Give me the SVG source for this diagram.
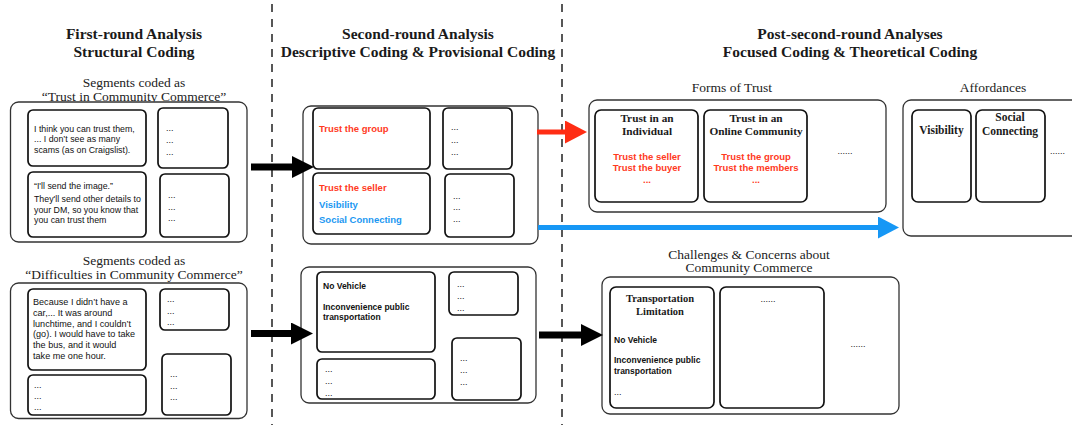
<svg xmlns="http://www.w3.org/2000/svg" width="1072" height="425" viewBox="0 0 1072 425">
  <style>
    .title { font-family: "Liberation Serif", serif; font-weight: bold; font-size: 15.5px; fill: #1a1a1a; text-anchor: middle; }
    .sub { font-family: "Liberation Serif", serif; font-size: 13.5px; fill: #222; text-anchor: middle; }
    .head { font-family: "Liberation Serif", serif; font-weight: bold; font-size: 11.3px; fill: #1a1a1a; text-anchor: middle; }
    .quote { font-family: "Liberation Sans", Arial, sans-serif; font-size: 8.8px; fill: #111; }
    .quote2 { font-family: "Liberation Sans", Arial, sans-serif; font-size: 9.1px; fill: #111; }
    .dots { font-family: "Liberation Sans", Arial, sans-serif; font-size: 9px; fill: #111; }
    .code { font-family: "Liberation Sans", Arial, sans-serif; font-weight: bold; font-size: 9.5px; }
    .codek { font-family: "Liberation Sans", Arial, sans-serif; font-weight: bold; font-size: 8.5px; fill: #111; }
    .red { fill: #ff3a1e; }
    .blue { fill: #1b98f2; }
    .mid { text-anchor: middle; }
    .outer { fill: #fff; stroke: #333; stroke-width: 1.3; }
    .inner { fill: #fff; stroke: #111; stroke-width: 1.7; }
    .divider { stroke: #111; stroke-width: 1.4; stroke-dasharray: 8 7; fill: none; }
  </style>
  <defs>
    <marker id="head-black" markerUnits="userSpaceOnUse" markerWidth="22" markerHeight="22" viewBox="0 0 22 22" refX="0" refY="11" orient="auto">
      <path d="M0,0 L22,11 L0,22 z" fill="#000"/>
    </marker>
    <marker id="head-red" markerUnits="userSpaceOnUse" markerWidth="23" markerHeight="23" viewBox="0 0 23 23" refX="0" refY="11.5" orient="auto">
      <path d="M0,0 L22,11.5 L0,23 z" fill="#ff2d14"/>
    </marker>
    <marker id="head-blue" markerUnits="userSpaceOnUse" markerWidth="22" markerHeight="22" viewBox="0 0 22 22" refX="0" refY="11" orient="auto">
      <path d="M0,0 L21,11 L0,22 z" fill="#1697f5"/>
    </marker>
  </defs>

  <rect x="0" y="0" width="1072" height="425" fill="#fff"/>

  <!-- phase dividers -->
  <line class="divider" x1="272" y1="4" x2="272" y2="425"/>
  <line class="divider" x1="562" y1="4" x2="562" y2="425"/>

  <!-- phase headings -->
  <g id="heading-first">
    <text class="title" x="134" y="38.6">First-round Analysis</text>
    <text class="title" x="134" y="57">Structural Coding</text>
  </g>
  <g id="heading-second">
    <text class="title" x="418" y="38.6">Second-round Analysis</text>
    <text class="title" x="418" y="57">Descriptive Coding &amp; Provisional Coding</text>
  </g>
  <g id="heading-post">
    <text class="title" x="850" y="38.6">Post-second-round Analyses</text>
    <text class="title" x="850" y="57">Focused Coding &amp; Theoretical Coding</text>
  </g>

  <!-- first round: trust segments -->
  <g id="segments-trust">
    <text class="sub" x="134" y="87">Segments coded as</text>
    <text class="sub" x="134" y="100.5">“Trust in Community Commerce”</text>
    <rect class="outer" x="10.5" y="102" width="236.5" height="140" rx="8"/>
    <rect class="inner" x="28" y="110" width="118" height="56" rx="5"/>
    <text class="quote" x="34" y="131.5">I think you can trust them,</text>
    <text class="quote" x="34" y="142">... I don’t see as many</text>
    <text class="quote" x="34" y="152.5">scams (as on Craigslist).</text>
    <rect class="inner" x="158" y="108" width="70" height="60" rx="5"/>
    <text class="dots" x="166" y="131">...</text>
    <text class="dots" x="166" y="143">...</text>
    <text class="dots" x="166" y="155">...</text>
    <rect class="inner" x="28" y="172" width="118" height="65" rx="5"/>
    <text class="quote" x="34" y="189">“I'll send the image.”</text>
    <text class="quote" x="34" y="202">They'll send other details to</text>
    <text class="quote" x="34" y="212.5">your DM, so you know that</text>
    <text class="quote" x="34" y="223">you can trust them</text>
    <rect class="inner" x="160" y="174" width="69" height="63" rx="5"/>
    <text class="dots" x="168" y="198">...</text>
    <text class="dots" x="168" y="209.5">...</text>
    <text class="dots" x="168" y="221">...</text>
  </g>

  <!-- first round: difficulty segments -->
  <g id="segments-difficulties">
    <text class="sub" x="134" y="265">Segments coded as</text>
    <text class="sub" x="134" y="278.5">“Difficulties in Community Commerce”</text>
    <rect class="outer" x="10.5" y="283" width="236.5" height="135.5" rx="8"/>
    <rect class="inner" x="28" y="289" width="118" height="81" rx="5"/>
    <text class="quote2" x="33" y="304.5">Because I didn’t have a</text>
    <text class="quote2" x="33" y="315.5">car,... It was around</text>
    <text class="quote2" x="33" y="326.5">lunchtime, and I couldn’t</text>
    <text class="quote2" x="33" y="337">(go). I would have to take</text>
    <text class="quote2" x="33" y="348">the bus, and it would</text>
    <text class="quote2" x="33" y="359">take me one hour.</text>
    <rect class="inner" x="160" y="289" width="69" height="41" rx="5"/>
    <text class="dots" x="167" y="302">...</text>
    <text class="dots" x="167" y="313.5">...</text>
    <text class="dots" x="167" y="325">...</text>
    <rect class="inner" x="28" y="375" width="118" height="40" rx="5"/>
    <text class="dots" x="34" y="388">...</text>
    <text class="dots" x="34" y="399">...</text>
    <text class="dots" x="34" y="409.5">...</text>
    <rect class="inner" x="162" y="354" width="69" height="61" rx="5"/>
    <text class="dots" x="170" y="377">...</text>
    <text class="dots" x="170" y="388.5">...</text>
    <text class="dots" x="170" y="400">...</text>
  </g>

  <!-- second round: trust codes -->
  <g id="codes-trust">
    <rect class="outer" x="303" y="106" width="235" height="138" rx="8"/>
    <rect class="inner" x="313" y="108" width="117" height="61" rx="5"/>
    <text class="code red" x="319" y="132">Trust the group</text>
    <rect class="inner" x="443" y="108" width="69" height="61" rx="5"/>
    <text class="dots" x="451" y="130">...</text>
    <text class="dots" x="451" y="142.5">...</text>
    <text class="dots" x="451" y="154.5">...</text>
    <rect class="inner" x="313" y="173" width="117" height="61" rx="5"/>
    <text class="code red" x="319" y="190.5">Trust the seller</text>
    <text class="code blue" x="319" y="207.5">Visibility</text>
    <text class="code blue" x="319" y="223">Social Connecting</text>
    <rect class="inner" x="445" y="174" width="69" height="63" rx="5"/>
    <text class="dots" x="453" y="199">...</text>
    <text class="dots" x="453" y="210">...</text>
    <text class="dots" x="453" y="222">...</text>
  </g>

  <!-- second round: difficulty codes -->
  <g id="codes-difficulties">
    <rect class="outer" x="301" y="267" width="235" height="136" rx="8"/>
    <rect class="inner" x="317" y="272" width="118" height="80" rx="5"/>
    <text class="codek" x="323" y="289">No Vehicle</text>
    <text class="codek" x="323" y="310">Inconvenience public</text>
    <text class="codek" x="323" y="320">transportation</text>
    <rect class="inner" x="449" y="272" width="69" height="43" rx="5"/>
    <text class="dots" x="457" y="287">...</text>
    <text class="dots" x="457" y="299">...</text>
    <text class="dots" x="457" y="310.5">...</text>
    <rect class="inner" x="317" y="359" width="118" height="40" rx="5"/>
    <text class="dots" x="325" y="372">...</text>
    <text class="dots" x="325" y="384">...</text>
    <text class="dots" x="325" y="395.5">...</text>
    <rect class="inner" x="452" y="338" width="69" height="62" rx="5"/>
    <text class="dots" x="460" y="361">...</text>
    <text class="dots" x="460" y="373">...</text>
    <text class="dots" x="460" y="385">...</text>
  </g>

  <!-- post-second-round: forms of trust -->
  <g id="forms-of-trust">
    <text class="sub" x="732" y="92">Forms of Trust</text>
    <rect class="outer" x="589" y="100" width="297" height="112" rx="8"/>
    <rect class="inner" x="595" y="110" width="103" height="92" rx="6"/>
    <text class="head" x="647" y="122">Trust in an</text>
    <text class="head" x="647" y="135">Individual</text>
    <text class="code red mid" x="647" y="159.5">Trust the seller</text>
    <text class="code red mid" x="647" y="170.5">Trust the buyer</text>
    <text class="code red mid" x="647" y="183">...</text>
    <rect class="inner" x="704" y="110" width="103" height="92" rx="6"/>
    <text class="head" x="756" y="122">Trust in an</text>
    <text class="head" x="756" y="135">Online Community</text>
    <text class="code red mid" x="756" y="159.5">Trust the group</text>
    <text class="code red mid" x="756" y="170.5">Trust the members</text>
    <text class="code red mid" x="756" y="183">...</text>
    <text class="dots mid" x="845" y="154">......</text>
  </g>

  <!-- post-second-round: affordances -->
  <g id="affordances">
    <text class="sub" x="993" y="92">Affordances</text>
    <rect class="outer" x="903" y="100" width="180" height="136" rx="8"/>
    <rect class="inner" x="912" y="110" width="59" height="92" rx="6"/>
    <text class="head" x="941.5" y="134" style="font-size:11.5px">Visibility</text>
    <rect class="inner" x="976" y="110" width="69" height="92" rx="6"/>
    <text class="head" x="1010" y="121" style="font-size:11.5px">Social</text>
    <text class="head" x="1010" y="135" style="font-size:11.5px">Connecting</text>
    <text class="dots" x="1050" y="154">......</text>
  </g>

  <!-- post-second-round: challenges -->
  <g id="challenges">
    <text class="sub" x="749" y="258.5">Challenges &amp; Concerns about</text>
    <text class="sub" x="749" y="272">Community Commerce</text>
    <rect class="outer" x="602" y="277" width="297" height="137" rx="8"/>
    <rect class="inner" x="610" y="287" width="104" height="121" rx="6"/>
    <text class="head" x="660" y="302" style="font-size:10.5px">Transportation</text>
    <text class="head" x="660" y="315" style="font-size:10.5px">Limitation</text>
    <text class="codek" x="614" y="343">No Vehicle</text>
    <text class="codek" x="614" y="363">Inconvenience public</text>
    <text class="codek" x="614" y="374">transportation</text>
    <text class="dots" x="614" y="395">...</text>
    <rect class="inner" x="720" y="287" width="104" height="121" rx="6"/>
    <text class="dots mid" x="768" y="302">......</text>
    <text class="dots mid" x="858" y="347">......</text>
  </g>

  <!-- connectors -->
  <g id="connectors">
    <line x1="251" y1="167" x2="292" y2="167" stroke="#000" stroke-width="7" marker-end="url(#head-black)"/>
    <line x1="251" y1="333.5" x2="291" y2="333.5" stroke="#000" stroke-width="7" marker-end="url(#head-black)"/>
    <line x1="539" y1="335" x2="581" y2="335" stroke="#000" stroke-width="7" marker-end="url(#head-black)"/>
    <line x1="537" y1="132" x2="565" y2="132" stroke="#ff2d14" stroke-width="5" marker-end="url(#head-red)"/>
    <line x1="538" y1="227.5" x2="878" y2="227.5" stroke="#1697f5" stroke-width="5" marker-end="url(#head-blue)"/>
  </g>
</svg>
